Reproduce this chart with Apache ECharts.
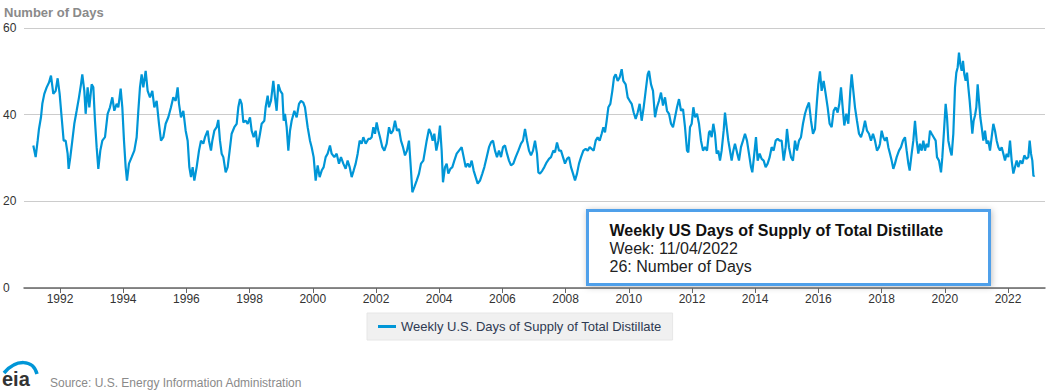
<!DOCTYPE html>
<html>
<head>
<meta charset="utf-8">
<script src="https://cdn.jsdelivr.net/npm/echarts@6/dist/echarts.min.js"></script>
<style>
html,body{margin:0;padding:0;background:#fff;}
#chart{width:1053px;height:391px;}
</style>
</head>
<body>
<div id="chart"></div>
<script>
// ---- data ----
const chartTitle = 'Number of Days';
const seriesName = 'Weekly U.S. Days of Supply of Total Distillate';
const tipTitle = 'Weekly US Days of Supply of Total Distillate';
const tipWeek = '11/04/2022';
const sourceText = 'Source: U.S. Energy Information Administration';
const tickYears = [1992,1994,1996,1998,2000,2002,2004,2006,2008,2010,2012,2014,2016,2018,2020,2022];
const yTicks = [0,20,40,60];

const years = [
1991.156,1991.230,1991.293,1991.335,1991.398,1991.441,1991.504,1991.578,1991.652,1991.715,1991.789,1991.863,1991.926,1991.989,
1992.052,1992.116,1992.179,1992.242,1992.274,1992.327,1992.390,1992.453,1992.527,1992.601,1992.664,1992.706,1992.770,1992.812,1992.875,1992.928,
1993.002,1993.055,1993.107,1993.160,1993.213,1993.276,1993.339,1993.424,1993.508,1993.582,1993.656,1993.719,1993.793,1993.846,1993.920,1993.972,
1994.025,1994.078,1994.120,1994.183,1994.268,1994.352,1994.426,1994.479,1994.531,1994.584,1994.637,1994.711,1994.774,1994.848,1994.922,1994.985,
1995.059,1995.133,1995.196,1995.270,1995.344,1995.428,1995.512,1995.586,1995.660,1995.723,1995.766,1995.829,1995.903,1995.977,
1996.040,1996.093,1996.146,1996.198,1996.251,1996.325,1996.399,1996.462,1996.536,1996.588,1996.673,1996.715,1996.778,1996.821,1996.884,1996.958,
1997.010,1997.063,1997.116,1997.169,1997.243,1997.306,1997.369,1997.432,1997.517,1997.591,1997.643,1997.696,1997.749,1997.802,1997.875,1997.939,
1998.013,1998.065,1998.129,1998.192,1998.255,1998.329,1998.382,1998.466,1998.508,1998.572,1998.614,1998.677,1998.751,1998.804,1998.856,1998.909,1998.973,
1999.036,1999.078,1999.120,1999.173,1999.226,1999.279,1999.331,1999.416,1999.490,1999.563,1999.627,1999.700,1999.753,1999.838,1999.911,1999.964,
2000.027,2000.091,2000.154,2000.217,2000.281,2000.344,2000.407,2000.470,2000.544,2000.597,2000.681,2000.755,2000.829,2000.892,2000.966,
2001.040,2001.103,2001.167,2001.230,2001.293,2001.357,2001.420,2001.483,2001.546,2001.599,2001.673,2001.758,2001.810,2001.863,2001.916,2001.968,
2002.021,2002.074,2002.127,2002.201,2002.264,2002.338,2002.412,2002.475,2002.538,2002.601,2002.665,2002.728,2002.791,2002.855,2002.918,2002.981,
2003.044,2003.108,2003.150,2003.213,2003.287,2003.361,2003.424,2003.498,2003.551,2003.604,2003.677,2003.741,2003.793,2003.846,2003.909,2003.973,
2004.025,2004.078,2004.120,2004.184,2004.236,2004.289,2004.353,2004.416,2004.479,2004.553,2004.627,2004.711,2004.775,2004.838,2004.901,2004.964,
2005.028,2005.091,2005.154,2005.218,2005.291,2005.365,2005.429,2005.503,2005.576,2005.640,2005.703,2005.766,2005.829,2005.893,2005.956,
2006.019,2006.083,2006.146,2006.209,2006.272,2006.346,2006.420,2006.505,2006.589,2006.652,2006.716,2006.779,2006.842,2006.905,2006.969,
2007.032,2007.095,2007.138,2007.190,2007.264,2007.327,2007.401,2007.475,2007.538,2007.612,2007.665,2007.728,2007.792,2007.855,2007.918,2007.981,
2008.045,2008.108,2008.171,2008.235,2008.298,2008.361,2008.424,2008.488,2008.562,2008.635,2008.699,2008.762,2008.825,2008.889,2008.952,
2009.015,2009.078,2009.142,2009.195,2009.247,2009.300,2009.353,2009.416,2009.479,2009.532,2009.585,2009.648,2009.711,2009.775,2009.827,2009.901,2009.965,
2010.028,2010.091,2010.155,2010.218,2010.281,2010.344,2010.408,2010.471,2010.534,2010.598,2010.640,2010.703,2010.766,2010.830,2010.893,2010.956,
2011.019,2011.083,2011.146,2011.209,2011.273,2011.336,2011.399,2011.463,2011.526,2011.589,2011.652,2011.716,2011.779,2011.842,2011.884,2011.937,2011.990,
2012.043,2012.096,2012.159,2012.222,2012.285,2012.349,2012.412,2012.475,2012.538,2012.569,2012.622,2012.675,2012.727,2012.780,2012.833,2012.886,2012.938,
2013.002,2013.044,2013.097,2013.149,2013.202,2013.255,2013.308,2013.360,2013.424,2013.487,2013.550,2013.614,2013.677,2013.740,2013.803,2013.867,2013.909,2013.972,
2014.025,2014.078,2014.141,2014.204,2014.268,2014.331,2014.394,2014.458,2014.521,2014.584,2014.647,2014.711,2014.774,2014.837,2014.901,2014.964,
2015.006,2015.069,2015.133,2015.196,2015.259,2015.323,2015.386,2015.449,2015.512,2015.576,2015.639,2015.702,2015.766,2015.829,2015.892,2015.955,2015.998,
2016.050,2016.103,2016.166,2016.230,2016.293,2016.356,2016.420,2016.483,2016.546,2016.609,2016.662,2016.715,2016.768,2016.820,2016.884,2016.947,
2017.010,2017.053,2017.105,2017.158,2017.221,2017.285,2017.348,2017.411,2017.475,2017.538,2017.601,2017.664,2017.728,2017.791,2017.854,2017.918,2017.949,
2018.002,2018.055,2018.107,2018.160,2018.213,2018.266,2018.318,2018.371,2018.424,2018.477,2018.551,2018.614,2018.677,2018.740,2018.793,2018.846,2018.888,2018.951,
2019.004,2019.057,2019.110,2019.162,2019.215,2019.268,2019.321,2019.373,2019.426,2019.479,2019.532,2019.584,2019.648,2019.711,2019.753,2019.816,2019.880,2019.922,2019.975,
2020.027,2020.070,2020.112,2020.175,2020.217,2020.270,2020.323,2020.365,2020.407,2020.449,2020.492,2020.534,2020.576,2020.618,2020.660,2020.703,2020.745,2020.787,2020.829,2020.871,2020.913,2020.956,2020.998,
2021.040,2021.082,2021.124,2021.167,2021.219,2021.272,2021.325,2021.378,2021.430,2021.483,2021.536,2021.589,2021.642,2021.694,2021.747,2021.800,2021.853,2021.905,2021.958,
2022.011,2022.064,2022.116,2022.169,2022.222,2022.275,2022.327,2022.390,2022.454,2022.517,2022.580,2022.643,2022.686,2022.728,2022.770,2022.805,2022.843
];

const days = [
32.9,30.2,34,36.7,39.4,42.5,44.8,46.3,47.4,49,44.8,45.5,48.4,44.8,
39.4,34,34,31,27.5,30.2,34,37.9,40.9,44,47,49.3,45.5,40.2,46.3,41.7,
47,46.3,38.6,32.5,27.5,31.7,34,34.8,40.2,41.7,44,40.9,42.5,41.7,46,41.7,
34,27.9,24.8,28.7,30.2,31.7,34.8,40.9,46.3,49.3,46.3,50.1,45.5,44,45.5,41.7,
43.2,37.9,34,34.8,37.9,39.4,41.7,44,43.2,46.3,42.5,39.4,40.9,36.3,
34,27.9,25.6,27.9,24.8,27.9,31.7,34,33.3,34.8,36.3,34,31.7,34,36.3,37.1,
38.8,34,31,30.2,26.7,27.9,31.7,35.6,37.1,37.9,41.7,43.6,42.5,38.2,38.6,37.9,
39.4,36.3,34.8,36.3,32.5,35.6,37.9,38.6,41.7,44.4,41.7,43.2,47.8,44,40.9,47,45.5,
44.8,38.6,40.2,37.1,31.7,36.3,38.6,40.9,39.4,42.5,43.2,42.8,41.7,37.1,34,32.5,
30.2,24.8,28.3,25.6,27.1,27.9,30.2,31,32.9,31,30.2,31,28.7,30.2,28.7,
27.5,29.4,27.9,25.6,27.1,28.7,31,34,33.3,34.8,33.3,34.4,34.4,34.8,37.1,35.6,
38.2,36.3,34.8,32.5,31.7,33.3,37.1,35.6,36.3,38.6,36.3,36.7,34,32.5,30.6,31.7,
34,27.1,22.1,23.3,24.8,26.4,28.7,29.4,31.7,34,36.7,35.6,34,35.6,31.7,34,
37.5,31.7,24.4,27.9,28.7,26.4,27.5,27.9,29.4,31,31.7,32.5,30.2,27.9,28.7,27.9,
29.4,27.1,25.6,24.1,24.8,26.4,27.9,30.2,32.5,33.6,34,31.7,30.2,31.7,30.2,
32.5,32.9,31,29.4,28.3,28.7,30.2,31.7,33.3,34,36.7,34,31.7,30.6,31.7,
34,31,26.7,26.4,27.1,27.9,29,29.8,30.2,31.7,31.3,33.6,31.7,31.7,30.2,28.7,
29.8,30.2,27.9,26.4,24.8,26.4,28.7,30.2,31.7,32.1,31.7,32.5,32.1,31.7,34,
34.8,34,35.6,37.1,35.9,38.6,41.7,42.5,45.5,48.6,49.3,47.8,48.6,50.5,47.8,47,44,
43.2,42.5,40.5,39,40.5,42.5,38.6,41.7,45.5,49.3,50.1,47,45.5,39.4,41.7,43.2,
45.1,42.1,44,40.9,40.2,37.9,37.1,39.4,41.7,43.6,40.9,41.3,37.1,31.7,31.3,37.1,37.9,
41.7,39.4,40.2,37.9,34,31.7,32.5,31.7,35.9,36.3,34.8,37.9,35.6,31,31.7,29.4,31.7,
36.3,40.5,37.1,34,31.7,29.4,31.7,33.3,31.3,29.4,32.5,34,35.6,34,31,27.9,26.7,31,
34.8,29.4,31,29.8,29.4,27.9,28.7,30.2,32.5,31.7,34,34.4,34,34,29.4,32.5,
36.7,32.5,30.2,29.4,34,31.7,34,34.8,37.9,40.2,41.7,42.8,38.6,35.6,36.7,43.2,47,
50,45.5,47.8,44.8,41.7,37.9,37.1,40.9,41.7,40.5,42.5,46.3,41.7,37.5,40.2,37.9,
45.5,49.3,45.5,41.7,38.6,35.6,34.8,36.3,38.6,36.3,35.6,34,35.6,34,31.7,32.5,33.3,
36.3,34.8,34,34.8,32.5,31,29.4,27.5,28.7,30.2,31.7,32.5,34,34.8,31.7,28.7,27.1,31,
34,38.6,34,31,33.3,31.7,34,31.7,33.3,32.5,36.3,35.6,34.8,34,30.2,29.4,26.7,30.2,36.3,
42.5,39.4,34,31.7,30.6,35.6,46.3,49.7,50.9,54.3,51.6,50.1,52.4,49.3,47.8,49.7,46.3,43.2,39.4,35.6,38.6,39.8,41.7,
47,43.2,39.4,37.1,34,36.3,33.3,34,31.7,34.8,37.9,36.3,34,32.5,31.7,32.5,31,29.4,31,
30.2,34,29.4,26.4,27.9,29.4,27.9,29.4,28.7,30.6,29.8,30.2,34,31,29.4,25.8,26
];

const font = '"Liberation Sans", Arial, sans-serif';
const seriesData = years.map((y, i) => [y, days[i]]);
const lastValue = days[days.length - 1];

const chart = echarts.init(document.getElementById('chart'), null, {renderer: 'svg'});
chart.setOption({
  animation: false,
  backgroundColor: '#ffffff',
  textStyle: {fontFamily: font},
  title: {
    text: chartTitle,
    left: -1, top: 1,
    textStyle: {fontFamily: font, fontSize: 13, fontWeight: 'bold', color: '#8a8a8a'}
  },
  grid: {left: 24, right: 8, top: 28, bottom: 103, containLabel: false},
  xAxis: {
    type: 'value',
    min: 1990.861,
    max: 2023.171,
    axisLine: {show: true, lineStyle: {color: '#666666', width: 1.5}},
    axisTick: {show: true, customValues: tickYears, length: 5, lineStyle: {color: '#666666', width: 1}},
    axisLabel: {customValues: tickYears, formatter: v => String(Math.round(v)), color: '#333333', fontSize: 12, margin: 5, fontFamily: font},
    splitLine: {show: false}
  },
  yAxis: {
    type: 'value',
    min: yTicks[0], max: yTicks[yTicks.length - 1], interval: 20,
    axisLine: {show: false},
    axisTick: {show: false},
    axisLabel: {align: 'left', margin: 21, color: '#333333', fontSize: 12, fontFamily: font},
    splitLine: {show: true, lineStyle: {color: '#cccccc', width: 1}}
  },
  legend: {
    show: true,
    left: 367, top: 313,
    padding: [7, 11],
    backgroundColor: '#f0f0f0',
    borderColor: '#e6e6e6', borderWidth: 1,
    itemWidth: 18, itemHeight: 3,
    icon: 'rect',
    textStyle: {fontFamily: font, fontSize: 13, color: '#2e3a52'},
    data: [seriesName]
  },
  series: [{
    name: seriesName,
    type: 'line',
    data: seriesData,
    showSymbol: false,
    symbol: 'none',
    lineStyle: {color: '#0096d7', width: 2.2},
    itemStyle: {color: '#0096d7'},
    sampling: null
  }],
  graphic: [
    {
      type: 'group', left: 586, top: 209,
      children: [
        {type: 'rect', shape: {x: 0, y: 0, width: 402, height: 74},
          style: {fill: '#ffffff', stroke: '#4fa0ea', lineWidth: 3, shadowBlur: 6, shadowColor: 'rgba(0,0,0,0.25)', shadowOffsetX: 1, shadowOffsetY: 1}},
        {type: 'text', x: 22, y: 20, style: {text: tipTitle, font: 'bold 16px ' + font, fill: '#111111', verticalAlign: 'middle'}},
        {type: 'text', x: 22, y: 38, style: {text: 'Week: ' + tipWeek, font: '16px ' + font, fill: '#222222', verticalAlign: 'middle'}},
        {type: 'text', x: 22, y: 56, style: {text: lastValue + ': ' + chartTitle, font: '16px ' + font, fill: '#222222', verticalAlign: 'middle'}}
      ]
    },
    {type: 'bezierCurve', shape: {x1: 4, y1: 373, cpx1: 16, cpy1: 359, cpx2: 33, cpy2: 359, x2: 37, y2: 374},
      style: {stroke: '#0096d7', lineWidth: 3.5, fill: null}},
    {type: 'text', x: 2, y: 389, style: {text: 'eia', font: 'bold 20px ' + font, fill: '#333333', verticalAlign: 'bottom'}},
    {type: 'text', left: 50, top: 377, style: {text: sourceText, font: '12px ' + font, fill: '#8a8a8a'}}
  ]
});
</script>
</body>
</html>
